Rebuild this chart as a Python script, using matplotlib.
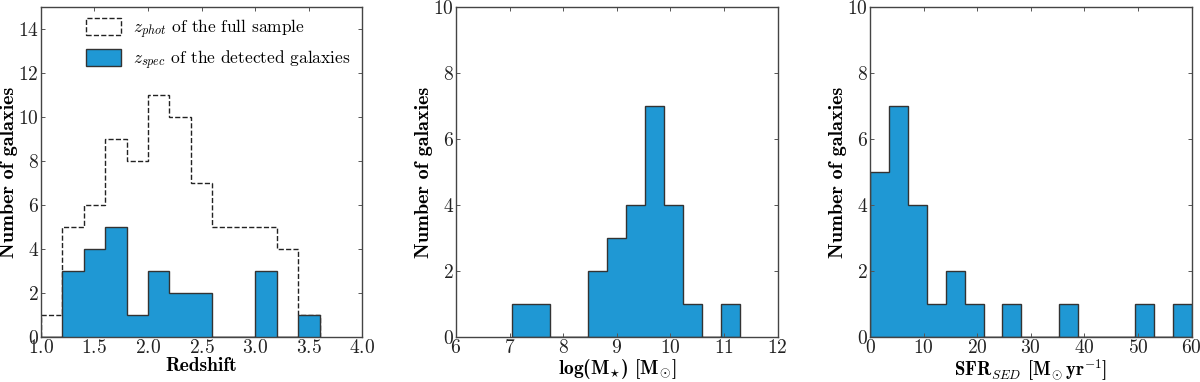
import matplotlib
matplotlib.use("Agg")
import matplotlib.pyplot as plt
import numpy as np

# Estilo tipo LaTeX (Computer Modern incluido en matplotlib)
plt.rcParams["font.family"] = "serif"
plt.rcParams["font.serif"] = ["cmr10"]
plt.rcParams["mathtext.fontset"] = "cm"
plt.rcParams["axes.formatter.use_mathtext"] = True
plt.rcParams["axes.unicode_minus"] = False

AZUL = "#1f98d4"
BORDE = "#333333"

# Panel 1: redshift
z_bordes = np.round(np.arange(1.0, 3.61, 0.2), 2)
z_phot = [1, 5, 6, 9, 8, 11, 10, 7, 5, 5, 5, 4, 1]
z_spec = [0, 3, 4, 5, 1, 3, 2, 2, 0, 0, 3, 0, 1]

# Panel 2: masa estelar
m_bordes = np.linspace(7.05, 11.29, 13)
m_cuentas = [1, 1, 0, 0, 2, 3, 4, 7, 4, 1, 0, 1]

# Panel 3: SFR
sfr_bordes = np.linspace(0, 60, 18)
sfr_cuentas = [5, 7, 4, 1, 2, 1, 0, 1, 0, 0, 1, 0, 0, 0, 1, 0, 1]

fig = plt.figure(figsize=(12, 3.82), dpi=100)
ax1 = fig.add_axes([0.034, 0.117, 0.268, 0.864])
ax2 = fig.add_axes([0.380, 0.117, 0.268, 0.864])
ax3 = fig.add_axes([0.725, 0.117, 0.268, 0.864])

def centros(b):
    b = np.asarray(b)
    return (b[:-1] + b[1:]) / 2

ax1.hist(centros(z_bordes), bins=z_bordes, weights=z_phot, histtype="step",
         linestyle="--", color="#222222", linewidth=1.0,
         label=r"$z_{phot}$ of the full sample", zorder=2)
ax1.hist(centros(z_bordes), bins=z_bordes, weights=z_spec, histtype="stepfilled",
         facecolor=AZUL, edgecolor=BORDE, linewidth=1.0,
         label=r"$z_{spec}$ of the detected galaxies", zorder=3)
ax1.set_xlim(1.0, 4.0)
ax1.set_ylim(0, 15)
ax1.set_xticks(np.arange(1.0, 4.01, 0.5))
ax1.set_yticks(np.arange(0, 15, 2))
ax1.set_xlabel("Redshift", fontfamily="cmb10", fontsize=14, labelpad=0)

ax2.hist(centros(m_bordes), bins=m_bordes, weights=m_cuentas, histtype="stepfilled",
         facecolor=AZUL, edgecolor=BORDE, linewidth=1.0)
ax2.set_xlim(6, 12)
ax2.set_ylim(0, 10)
ax2.set_xticks(range(6, 13))
ax2.set_yticks(range(0, 11, 2))
ax2.set_xlabel(r"log(M$_{\star}$) [M$_{\odot}$]", fontfamily="cmb10", fontsize=14, labelpad=0)

ax3.hist(centros(sfr_bordes), bins=sfr_bordes, weights=sfr_cuentas, histtype="stepfilled",
         facecolor=AZUL, edgecolor=BORDE, linewidth=1.0)
ax3.set_xlim(0, 60)
ax3.set_ylim(0, 10)
ax3.set_xticks(range(0, 61, 10))
ax3.set_yticks(range(0, 11, 2))
ax3.set_xlabel(r"SFR$_{SED}$ [M$_{\odot}\,$yr$^{-1}$]", fontfamily="cmb10", fontsize=13.5, labelpad=0)

for ax in (ax1, ax2, ax3):
    ax.set_ylabel("Number of galaxies", fontfamily="cmb10", fontsize=14.5, labelpad=0)
    ax.tick_params(direction="in", top=True, right=True, length=3, width=0.7,
                   labelsize=14, colors="#555555", labelcolor="#222222", pad=1.5)
    for s in ax.spines.values():
        s.set_color("#444444")
        s.set_linewidth(1.0)

leg = ax1.legend(loc="upper left", bbox_to_anchor=(0.12, 0.99), borderaxespad=0,
                 frameon=False, prop={"family": "serif", "size": 12.5},
                 handlelength=2.0, handleheight=1.1, labelspacing=0.45,
                 handletextpad=0.7)

fig.savefig("out.png", dpi=100)
